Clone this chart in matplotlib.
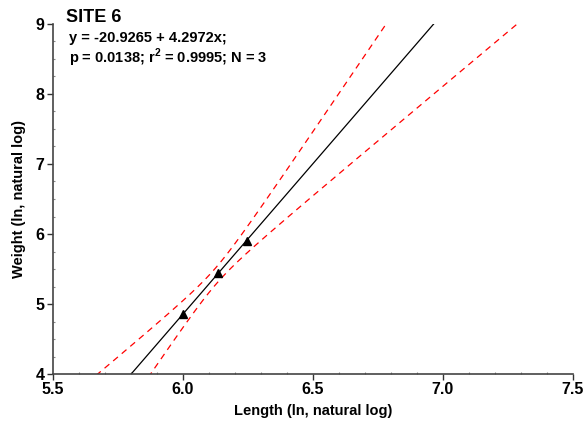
import numpy as np
import matplotlib
matplotlib.use("Agg")
import matplotlib.pyplot as plt
from matplotlib.ticker import MultipleLocator

# Observed ln(length) / ln(weight) pairs
length_ln = [6.000, 6.135, 6.245]
weight_ln = [4.851, 5.450, 5.902]

# Published regression
intercept = -20.9265
slope = 4.2972
p_value = 0.0138
r_squared = 0.9995
n_obs = 3

x_ticks = [5.5, 6.0, 6.5, 7.0, 7.5]
y_ticks = [4, 5, 6, 7, 8, 9]

plt.rcParams["font.family"] = ["Liberation Sans", "DejaVu Sans"]
plt.rcParams["font.weight"] = "bold"
plt.rcParams["mathtext.fontset"] = "custom"
plt.rcParams["mathtext.bf"] = "Liberation Sans:bold"
plt.rcParams["mathtext.rm"] = "Liberation Sans:bold"

fig = plt.figure(figsize=(5.86, 4.23), dpi=100)
ax = fig.add_axes([0.0904, 0.1158, 0.8874, 0.8275])

xs = np.array(length_ln)
ys = np.array(weight_ln)
xbar = xs.mean()
sxx = np.sum((xs - xbar) ** 2)
fitted = intercept + slope * xs
sse = np.sum((ys - fitted) ** 2)
s = np.sqrt(sse / (n_obs - 2))
t_crit = 12.706  # two-sided 95%, df = 1

xgrid = np.linspace(5.5, 7.5, 800)
yline = intercept + slope * xgrid
half = t_crit * s * np.sqrt(1.0 / n_obs + (xgrid - xbar) ** 2 / sxx)

ax.plot(xgrid, yline, color="black", lw=0.9)
ax.plot(xgrid, yline + half, color="#ff0000", lw=0.9, dashes=(5, 4))
ax.plot(xgrid, yline - half, color="#ff0000", lw=0.9, dashes=(5, 4))
ax.plot(length_ln, weight_ln, linestyle="none", marker="^", color="black",
        markersize=6)

ax.set_xlim(5.5, 7.5)
ax.set_ylim(4, 9)
ax.set_xticks(x_ticks)
ax.set_xticklabels([f"{v:.1f}" for v in x_ticks])
ax.set_yticks(y_ticks)
ax.set_yticklabels([str(v) for v in y_ticks])
ax.xaxis.set_minor_locator(MultipleLocator(0.1))
ax.yaxis.set_minor_locator(MultipleLocator(0.25))

for side in ("top", "right"):
    ax.spines[side].set_visible(False)
for side in ("left", "bottom"):
    ax.spines[side].set_color("#444444")
    ax.spines[side].set_linewidth(1.2)

ax.tick_params(which="major", direction="out", length=4, width=1,
               color="#333333", labelsize=11.5, pad=2)
ax.tick_params(which="minor", direction="in", length=1.5, width=0.8,
               color="#888888")
for lab in ax.get_xticklabels() + ax.get_yticklabels():
    lab.set_fontweight("bold")

ax.set_xlabel("Length (ln, natural log)", fontsize=10.5, fontweight="bold",
              labelpad=5)
ax.set_ylabel("Weight (ln, natural log)", fontsize=10.5, fontweight="bold",
              labelpad=7)

fig.text(66 / 586, 1 - 17 / 423, "SITE 6", fontsize=13, fontweight="bold",
         va="center", ha="left")
fig.text(69 / 586, 1 - 38 / 423,
         f"y = {intercept:.4f} + {slope:.4f}x;", fontsize=10.5,
         fontweight="bold", va="center", ha="left")
fig.text(69 / 586, 1 - 58 / 423,
         f"p = {p_value:.4f}; r$^\\mathbf{{2}}$ = {r_squared:.4f}; N = {n_obs}",
         fontsize=10.5, fontweight="bold", va="center", ha="left")

fig.savefig("out.png", dpi=100)
